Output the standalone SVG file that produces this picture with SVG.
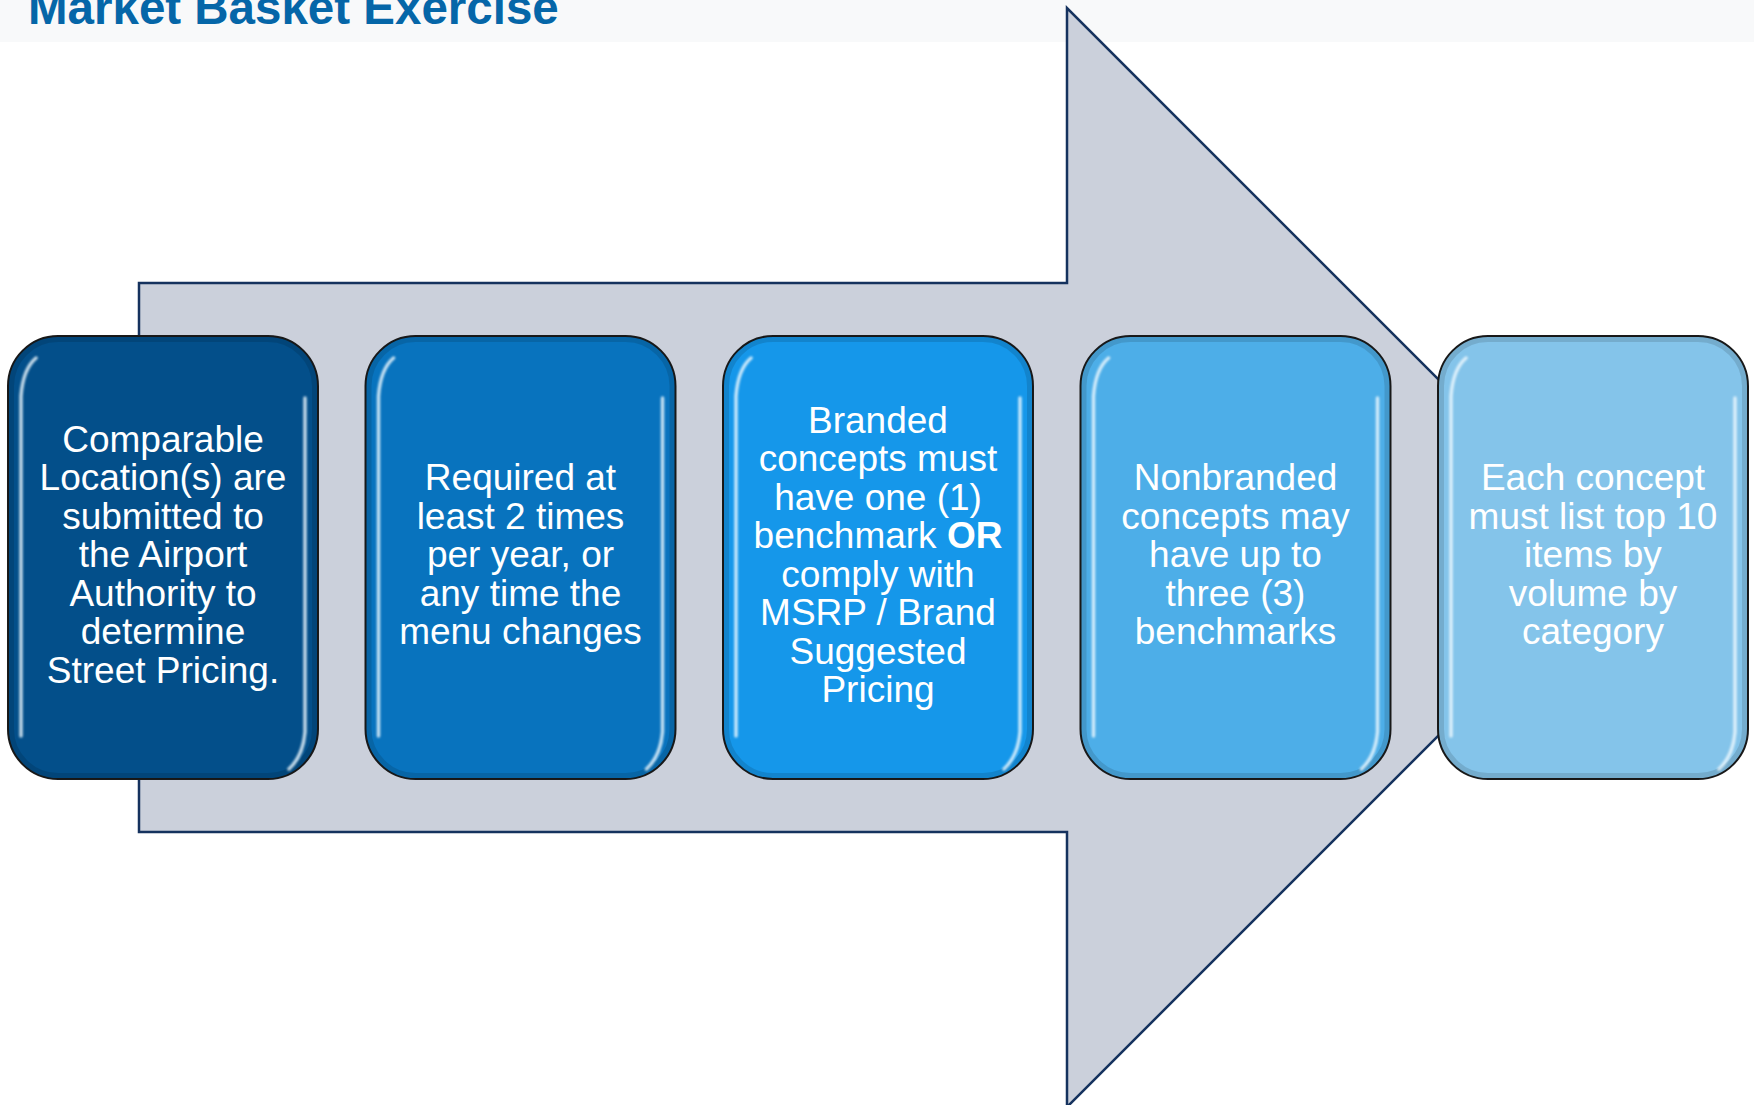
<svg xmlns="http://www.w3.org/2000/svg" width="1754" height="1105" viewBox="0 0 1754 1105">
<defs>
<style>
.box{stroke:#1a1a1a;stroke-width:2}
.rim{fill:none;stroke:#000;stroke-opacity:0.12;stroke-width:6}
.hl{fill:none;stroke:#f0faff;stroke-opacity:0.8;stroke-width:3.5;stroke-linecap:round;filter:url(#soft)}
.t{font-family:"Liberation Sans",Arial,sans-serif;font-size:37px;fill:#ffffff;text-anchor:middle}
.title{font-family:"Liberation Sans",Arial,sans-serif;font-size:47.5px;font-weight:bold;fill:#0566a8}
</style>
<filter id="soft" x="-20%" y="-5%" width="140%" height="110%">
<feGaussianBlur stdDeviation="0.8"/>
</filter>
<path id="gloss" d="M28,22 Q15,33 13,60 L13,400 M297,62 L297,396 Q295,420 281,433"/>
</defs>
<rect x="0" y="0" width="1754" height="1105" fill="#ffffff"/>
<rect x="0" y="0" width="1754" height="42" fill="#f8f9fa"/>
<text class="title" x="28" y="24">Market Basket Exercise</text>

<g id="arrow">
<path d="M139,283 L1067,283 L1067,8 L1616.5,557.5 L1067,1107 L1067,832 L139,832 Z" fill="#cbd0db" stroke="#15325e" stroke-width="2.5"/>
</g>

<g id="connectors"></g>

<g id="node1">
<rect class="box" x="8" y="336" width="310" height="443" rx="50" fill="#034f8a"/>
<rect class="rim" x="11" y="339" width="304" height="437" rx="47"/>
<use href="#gloss" class="hl" x="8" y="336"/>
<text class="t" x="163" y="451.7">Comparable</text>
<text class="t" x="163" y="490.2">Location(s) are</text>
<text class="t" x="163" y="528.7">submitted to</text>
<text class="t" x="163" y="567.2">the Airport</text>
<text class="t" x="163" y="605.7">Authority to</text>
<text class="t" x="163" y="644.2">determine</text>
<text class="t" x="163" y="682.7">Street Pricing.</text>
</g>

<g id="node2">
<rect class="box" x="365.5" y="336" width="310" height="443" rx="50" fill="#0873be"/>
<rect class="rim" x="368.5" y="339" width="304" height="437" rx="47"/>
<use href="#gloss" class="hl" x="365.5" y="336"/>
<text class="t" x="520.5" y="490.2">Required at</text>
<text class="t" x="520.5" y="528.7">least 2 times</text>
<text class="t" x="520.5" y="567.2">per year, or</text>
<text class="t" x="520.5" y="605.7">any time the</text>
<text class="t" x="520.5" y="644.2">menu changes</text>
</g>

<g id="node3">
<rect class="box" x="723" y="336" width="310" height="443" rx="50" fill="#1597ea"/>
<rect class="rim" x="726" y="339" width="304" height="437" rx="47"/>
<use href="#gloss" class="hl" x="723" y="336"/>
<text class="t" x="878" y="432.5">Branded</text>
<text class="t" x="878" y="471">concepts must</text>
<text class="t" x="878" y="509.5">have one (1)</text>
<text class="t" x="878" y="548">benchmark <tspan font-weight="bold">OR</tspan></text>
<text class="t" x="878" y="586.5">comply with</text>
<text class="t" x="878" y="625">MSRP / Brand</text>
<text class="t" x="878" y="663.5">Suggested</text>
<text class="t" x="878" y="702">Pricing</text>
</g>

<g id="node4">
<rect class="box" x="1080.5" y="336" width="310" height="443" rx="50" fill="#4daee8"/>
<rect class="rim" x="1083.5" y="339" width="304" height="437" rx="47"/>
<use href="#gloss" class="hl" x="1080.5" y="336"/>
<text class="t" x="1235.5" y="490.2">Nonbranded</text>
<text class="t" x="1235.5" y="528.7">concepts may</text>
<text class="t" x="1235.5" y="567.2">have up to</text>
<text class="t" x="1235.5" y="605.7">three (3)</text>
<text class="t" x="1235.5" y="644.2">benchmarks</text>
</g>

<g id="node5">
<rect class="box" x="1438" y="336" width="310" height="443" rx="50" fill="#84c4ea"/>
<rect class="rim" x="1441" y="339" width="304" height="437" rx="47"/>
<use href="#gloss" class="hl" x="1438" y="336"/>
<text class="t" x="1593" y="490.2">Each concept</text>
<text class="t" x="1593" y="528.7">must list top 10</text>
<text class="t" x="1593" y="567.2">items by</text>
<text class="t" x="1593" y="605.7">volume by</text>
<text class="t" x="1593" y="644.2">category</text>
</g>
</svg>
